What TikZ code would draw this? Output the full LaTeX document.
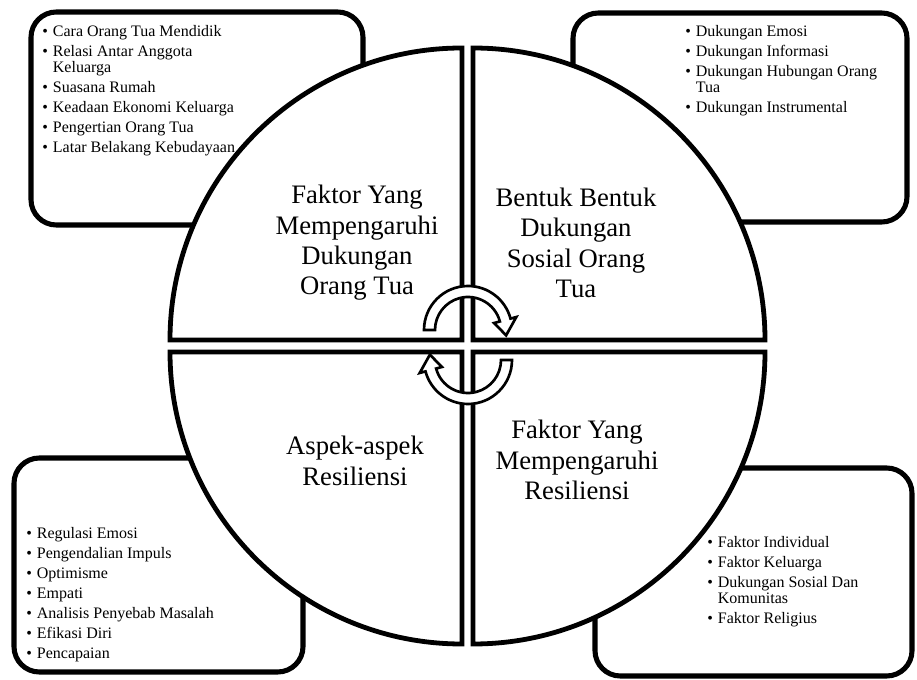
\documentclass[tikz,border=0pt]{standalone}
\usepackage{fontspec}
\setmainfont{Liberation Serif}
\newcommand{\itm}[1]{\makebox[8pt][l]{\textbullet}#1}
\newcommand{\cont}{\hspace*{8pt}}

\begin{document}
\begin{tikzpicture}[x=0.75pt, y=-0.75pt,
  card/.style={draw, line width=3.8pt, fill=white, rounded corners=19pt},
  quad/.style={draw, line width=3.6pt, fill=white},
  lst/.style={inner sep=0pt, anchor=north west, align=left, font=\fontsize{12}{12}\selectfont},
  lbl/.style={align=center, inner sep=0pt, font=\fontsize{20}{22.8}\selectfont},
  cyc/.pic={\draw[line width=2pt, fill=white] (180:33) -- (180:44) arc[start angle=180, end angle=345, radius=44] -- (345:50) -- (8:38.5) -- (345:27) -- (345:33) arc[start angle=345, end angle=180, radius=33] -- cycle;}]
	\useasboundingbox (0,0) rectangle (917,680);
	% boxes behind the circle
	\draw[card] (31,12) rectangle (363,225); \draw[card] (573,13) rectangle (907,222);
	\draw[card] (14,458) rectangle (303,672); \draw[card] (595,468) rectangle (912,676);
	% four quarters
	\draw[quad] (462,340) -- (170,340) arc[start angle=180, end angle=270, radius=292] -- cycle;
	\draw[quad] (473,340) -- (473,48) arc[start angle=270, end angle=360, radius=292] -- cycle;
	\draw[quad] (462,352) -- (170,352) arc[start angle=180, end angle=90, radius=292] -- cycle;
	\draw[quad] (473,352) -- (765,352) arc[start angle=0, end angle=90, radius=292] -- cycle;
	\pic at (468,330) {cyc}; \pic[rotate=180] at (468,360) {cyc};
	\node[lbl] (fdo) at (357,243) {Faktor Yang\\Mempengaruhi\\Dukungan\\Orang Tua};
	\node[lbl] (bdso) at (576,243) {Bentuk Bentuk\\Dukungan\\Sosial Orang\\Tua};
	\node[lbl] (ar) at (355,461) {Aspek-aspek\\Resiliensi};
	\node[lbl] (fr) at (577,460) {Faktor Yang\\Mempengaruhi\\Resiliensi};
	\node[lst] (fdo-l) at (42,25) {\itm{Cara Orang Tua Mendidik}\\[3pt]\itm{Relasi Antar Anggota}\\\cont Keluarga\\[3pt]\itm{Suasana Rumah}\\[3pt]\itm{Keadaan Ekonomi Keluarga}\\[3pt]\itm{Pengertian Orang Tua}\\[3pt]\itm{Latar Belakang Kebudayaan}};
	\node[lst] (bdso-l) at (685,25) {\itm{Dukungan Emosi}\\[3pt]\itm{Dukungan Informasi}\\[3pt]\itm{Dukungan Hubungan Orang}\\\cont Tua\\[3pt]\itm{Dukungan Instrumental}};
	\node[lst] (ar-l) at (26,527) {\itm{Regulasi Emosi}\\[3pt]\itm{Pengendalian Impuls}\\[3pt]\itm{Optimisme}\\[3pt]\itm{Empati}\\[3pt]\itm{Analisis Penyebab Masalah}\\[3pt]\itm{Efikasi Diri}\\[3pt]\itm{Pencapaian}};
	\node[lst] (fr-l) at (707,536) {\itm{Faktor Individual}\\[3pt]\itm{Faktor Keluarga}\\[3pt]\itm{Dukungan Sosial Dan}\\\cont Komunitas\\[3pt]\itm{Faktor Religius}};
\end{tikzpicture}
\end{document}
